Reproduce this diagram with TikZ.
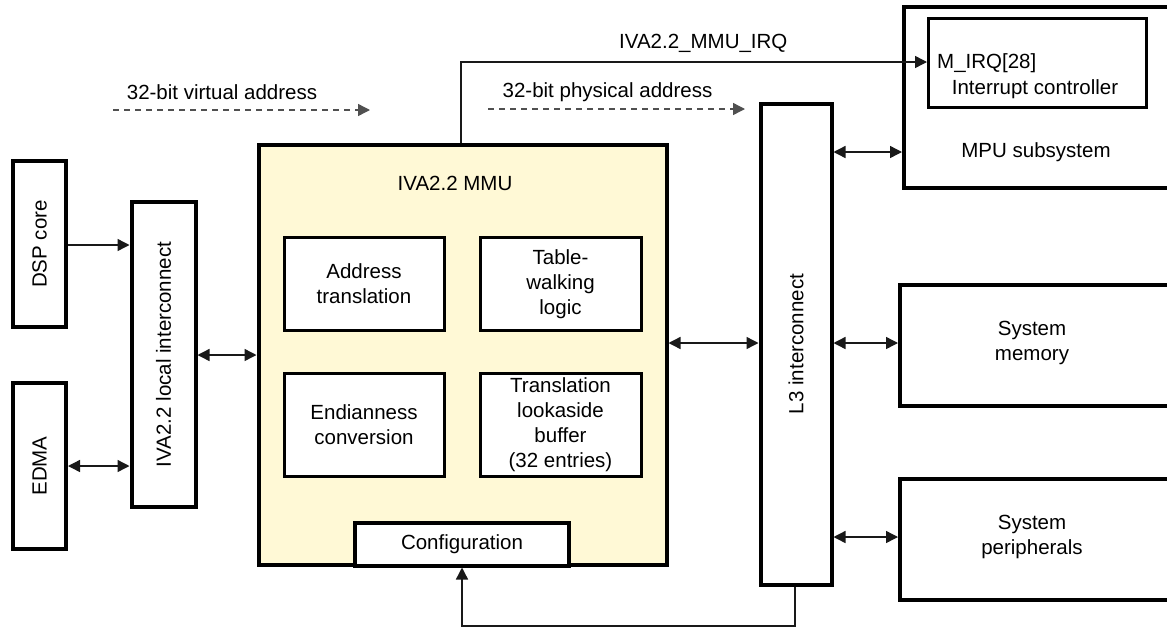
\documentclass[tikz,border=0pt]{standalone}
\usepackage{fontspec}
\setmainfont{Liberation Sans}
\usetikzlibrary{arrows.meta}
\definecolor{mmuyellow}{RGB}{255,249,214}
\definecolor{dashgray}{RGB}{80,80,80}
\begin{document}
\begin{tikzpicture}[x=1pt,y=-1pt,
  font=\fontsize{20.5}{25}\selectfont,
  box/.style={draw=black, line width=4pt, fill=white, align=center, inner sep=0pt},
  ibox/.style={draw=black, line width=3pt, fill=white, align=center, inner sep=0pt},
  conn/.style={line width=1.4pt, draw=black!90},
  tip/.style={-{Triangle[length=12pt,width=12pt]}},
  dtip/.style={{Triangle[length=12pt,width=12pt]}-{Triangle[length=12pt,width=12pt]}},
  dashconn/.style={line width=1.4pt, draw=dashgray, dash pattern=on 6pt off 5pt, -{Triangle[length=12pt,width=12pt]}},
  lbl/.style={inner sep=0pt, anchor=center, align=center}
]
\clip (0,0) rectangle (1167,627);
\fill[white] (0,0) rectangle (1167,627);

% left side
\node[box, minimum width=53pt, minimum height=166pt] (dsp) at (39.5,244) {};
\node[rotate=90, lbl] at (dsp.center) {DSP core};
\node[box, minimum width=53pt, minimum height=166pt] (edma) at (39.5,466) {};
\node[rotate=90, lbl] at (edma.center) {EDMA};
\node[box, minimum width=64pt, minimum height=305pt] (lic) at (163.5,354.5) {};
\node[rotate=90, lbl] at (lic.center) {IVA2.2 local interconnect};

% MMU
\node[box, fill=mmuyellow, minimum width=408pt, minimum height=420pt] (mmu) at (462.5,355) {};
\node[lbl] (mmut) at (455,183) {IVA2.2 MMU};
\node[ibox, minimum width=160pt, minimum height=93pt] (addr) at (364,284) {Address\\translation};
\node[ibox, minimum width=161pt, minimum height=93pt] (walk) at (560.5,284) {Table-\\walking\\logic};
\node[ibox, minimum width=160pt, minimum height=103pt] (endi) at (364,425) {Endianness\\conversion};
\node[ibox, minimum width=161pt, minimum height=103pt] (tlb) at (560.5,425) {Translation\\lookaside\\buffer\\(32 entries)};
\node[box, minimum width=214pt, minimum height=43pt] (cfg) at (462,544) {Configuration};

% L3
\node[box, minimum width=71pt, minimum height=481pt] (l3) at (796,344) {};
\node[rotate=90, lbl] at (l3.center) {L3 interconnect};

% right side (boxes run past the right edge)
\node[box, minimum width=290pt, minimum height=181pt, anchor=north west] (mpu) at (902,5) {};
\node[ibox, minimum width=218pt, minimum height=89pt, anchor=north west] (intc) at (927,17) {};
\node[lbl, anchor=west] (mirq) at (937,63) {M\_IRQ[28]};
\node[lbl] (intct) at (1035,89) {Interrupt controller};
\node[lbl] (mput) at (1036,152) {MPU subsystem};
\node[box, minimum width=290pt, minimum height=121pt, anchor=north west] (mem) at (898,283) {};
\node[lbl] (memt) at (1032,343) {System\\memory};
\node[box, minimum width=290pt, minimum height=121pt, anchor=north west] (per) at (898,477) {};
\node[lbl] (pert) at (1032,537) {System\\peripherals};

% address labels
\node[lbl] (vlab) at (222,92) {32-bit virtual address};
\node[lbl] (plab) at (607.5,92) {32-bit physical address};
\coordinate (v0) at (113,110);
\coordinate (v1) at (370,110);
\coordinate (p0) at (488,109);
\coordinate (p1) at (745,109);
\draw[dashconn] (v0) -- (v1);
\draw[dashconn] (p0) -- (p1);

% connectors
\draw[conn, tip] (dsp.east |- 0,245) -- (lic.west |- 0,245);
\draw[conn, dtip] (edma.east |- 0,466) -- (lic.west |- 0,466);
\draw[conn, dtip] (lic.east |- 0,355) -- (mmu.west |- 0,355);
\draw[conn, dtip] (mmu.east |- 0,343) -- (l3.west |- 0,343);
\draw[conn, dtip] (l3.east |- 0,152) -- (mpu.west |- 0,152);
\draw[conn, dtip] (l3.east |- 0,343) -- (mem.west |- 0,343);
\draw[conn, dtip] (l3.east |- 0,537) -- (per.west |- 0,537);

% IRQ
\coordinate (irqc) at (461,62);
\draw[conn, tip] (mmu.north -| irqc) -- (irqc) -- (intc.west |- irqc);
\node[lbl, anchor=west] (irql) at (619,43) {IVA2.2\_MMU\_IRQ};

% feedback to configuration
\coordinate (fb1) at (795,626);
\coordinate (fb2) at (462,626);
\draw[conn, tip] (l3.south -| fb1) -- (fb1) -- (fb2) -- (cfg.south);
\end{tikzpicture}
\end{document}
